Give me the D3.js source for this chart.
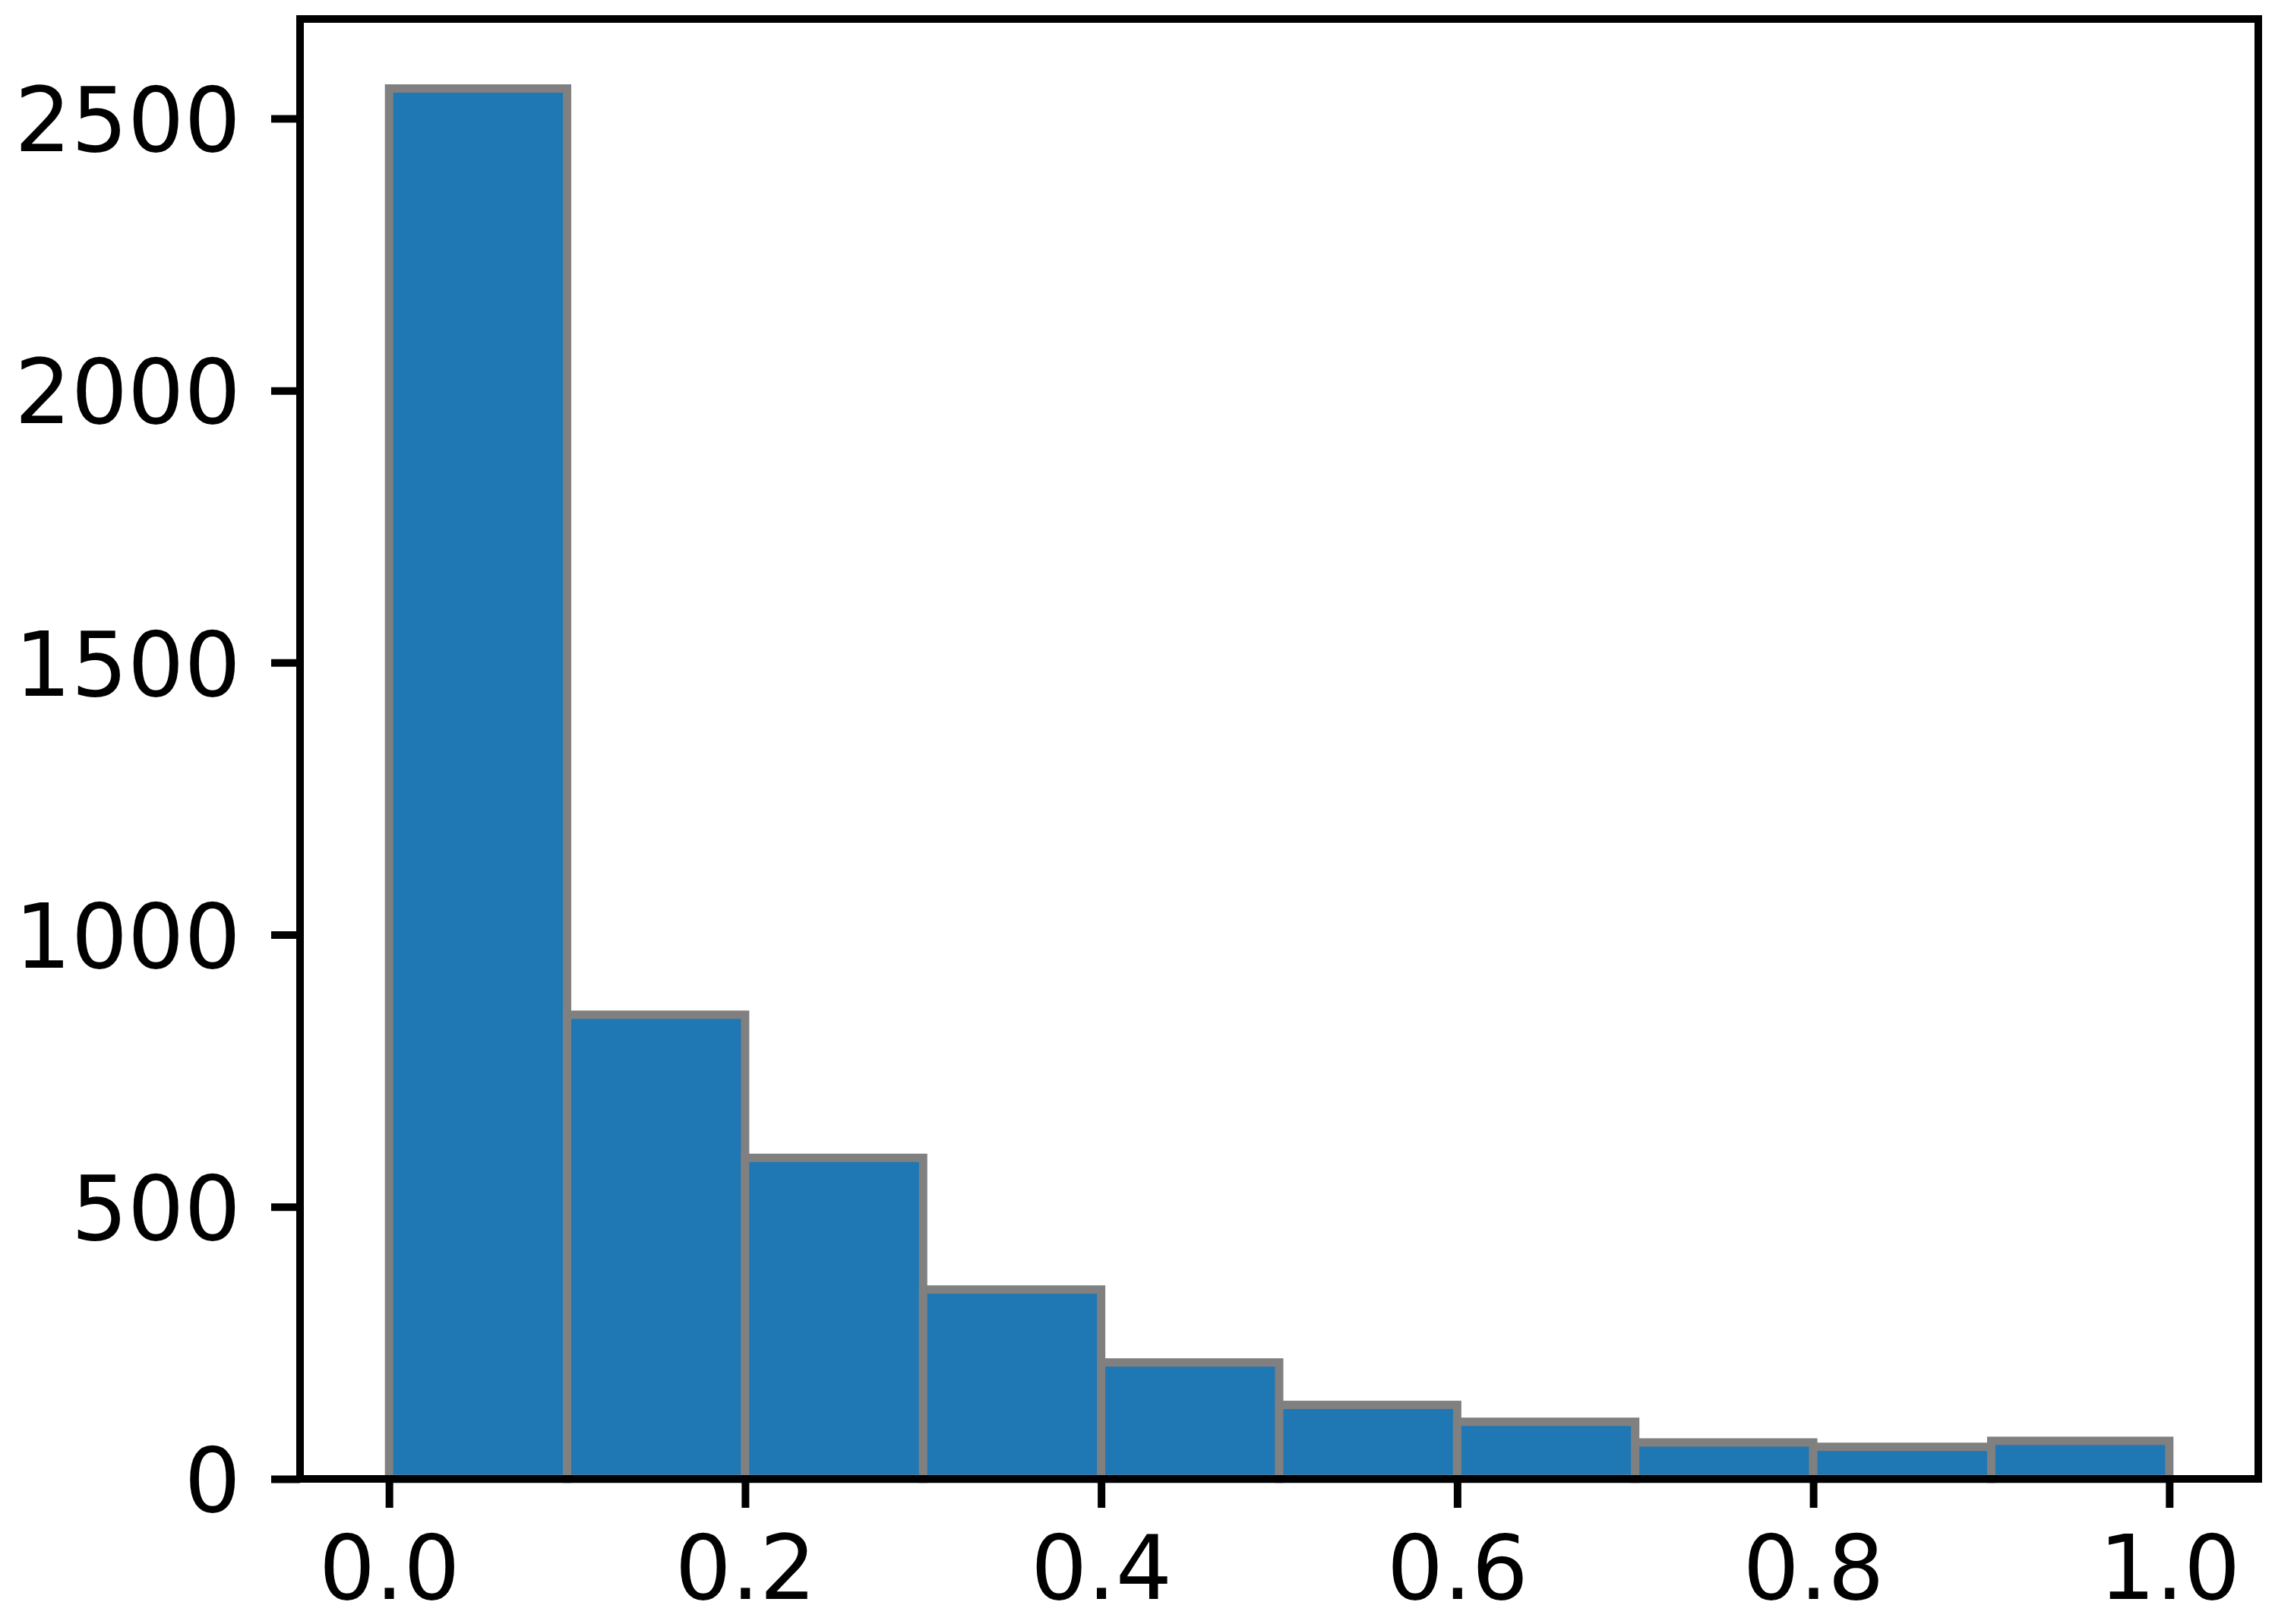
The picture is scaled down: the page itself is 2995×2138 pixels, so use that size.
<!DOCTYPE html>
<html><head><meta charset="utf-8">
<script src="https://cdn.jsdelivr.net/npm/d3@7/dist/d3.min.js"></script>
<style>html,body{margin:0;padding:0;background:#fff;}</style>
</head><body>
<svg id="chart" width="2995" height="2138"></svg>
<script>
const binEdges = [0.0,0.1,0.2,0.3,0.4,0.5,0.6,0.7,0.8,0.9,1.0];
const counts = [2555,853,590,348,214,136,105,67,59,70];
const xTicks = [0.0,0.2,0.4,0.6,0.8,1.0];
const yTicks = [0,500,1000,1500,2000,2500];

const W=2995,H=2138;
const L=395,R=2973,T=25,B=1947;
const svg=d3.select('#chart');
svg.append('rect').attr('width',W).attr('height',H).attr('fill','#fff');

const x=d3.scaleLinear().domain([-0.05,1.05]).range([L,R]);
const ymax=d3.max(counts)*1.05;
const y=d3.scaleLinear().domain([0,ymax]).range([B,T]);

const bins=counts.map((c,i)=>({x0:binEdges[i],x1:binEdges[i+1],c}));
svg.append('g').selectAll('rect').data(bins).join('rect')
  .attr('x',d=>x(d.x0)).attr('width',d=>x(d.x1)-x(d.x0))
  .attr('y',d=>y(d.c)).attr('height',d=>y(0)-y(d.c))
  .attr('fill','#1f77b4').attr('stroke','#808080').attr('stroke-width',11);

const font='DejaVu Sans';
const xa=svg.append('g').attr('transform',`translate(0,${B})`)
  .call(d3.axisBottom(x).tickValues(xTicks).tickFormat(d3.format('.1f')).tickSize(38).tickPadding(37));
const ya=svg.append('g').attr('transform',`translate(${L},0)`)
  .call(d3.axisLeft(y).tickValues(yTicks).tickFormat(d3.format('d')).tickSize(38).tickPadding(40));
[xa,ya].forEach(a=>{
  a.select('.domain').remove();
  a.selectAll('line').attr('stroke','#000').attr('stroke-width',10);
  a.selectAll('text').attr('font-family',font).attr('font-size',117).attr('fill','#000');
});
xa.selectAll('text').attr('dy','0.71em');
ya.selectAll('text').attr('dy','0.365em');

svg.append('rect').attr('x',L).attr('y',T).attr('width',R-L).attr('height',B-T)
  .attr('fill','none').attr('stroke','#000').attr('stroke-width',10).attr('stroke-linecap','square');
</script>
</body></html>
